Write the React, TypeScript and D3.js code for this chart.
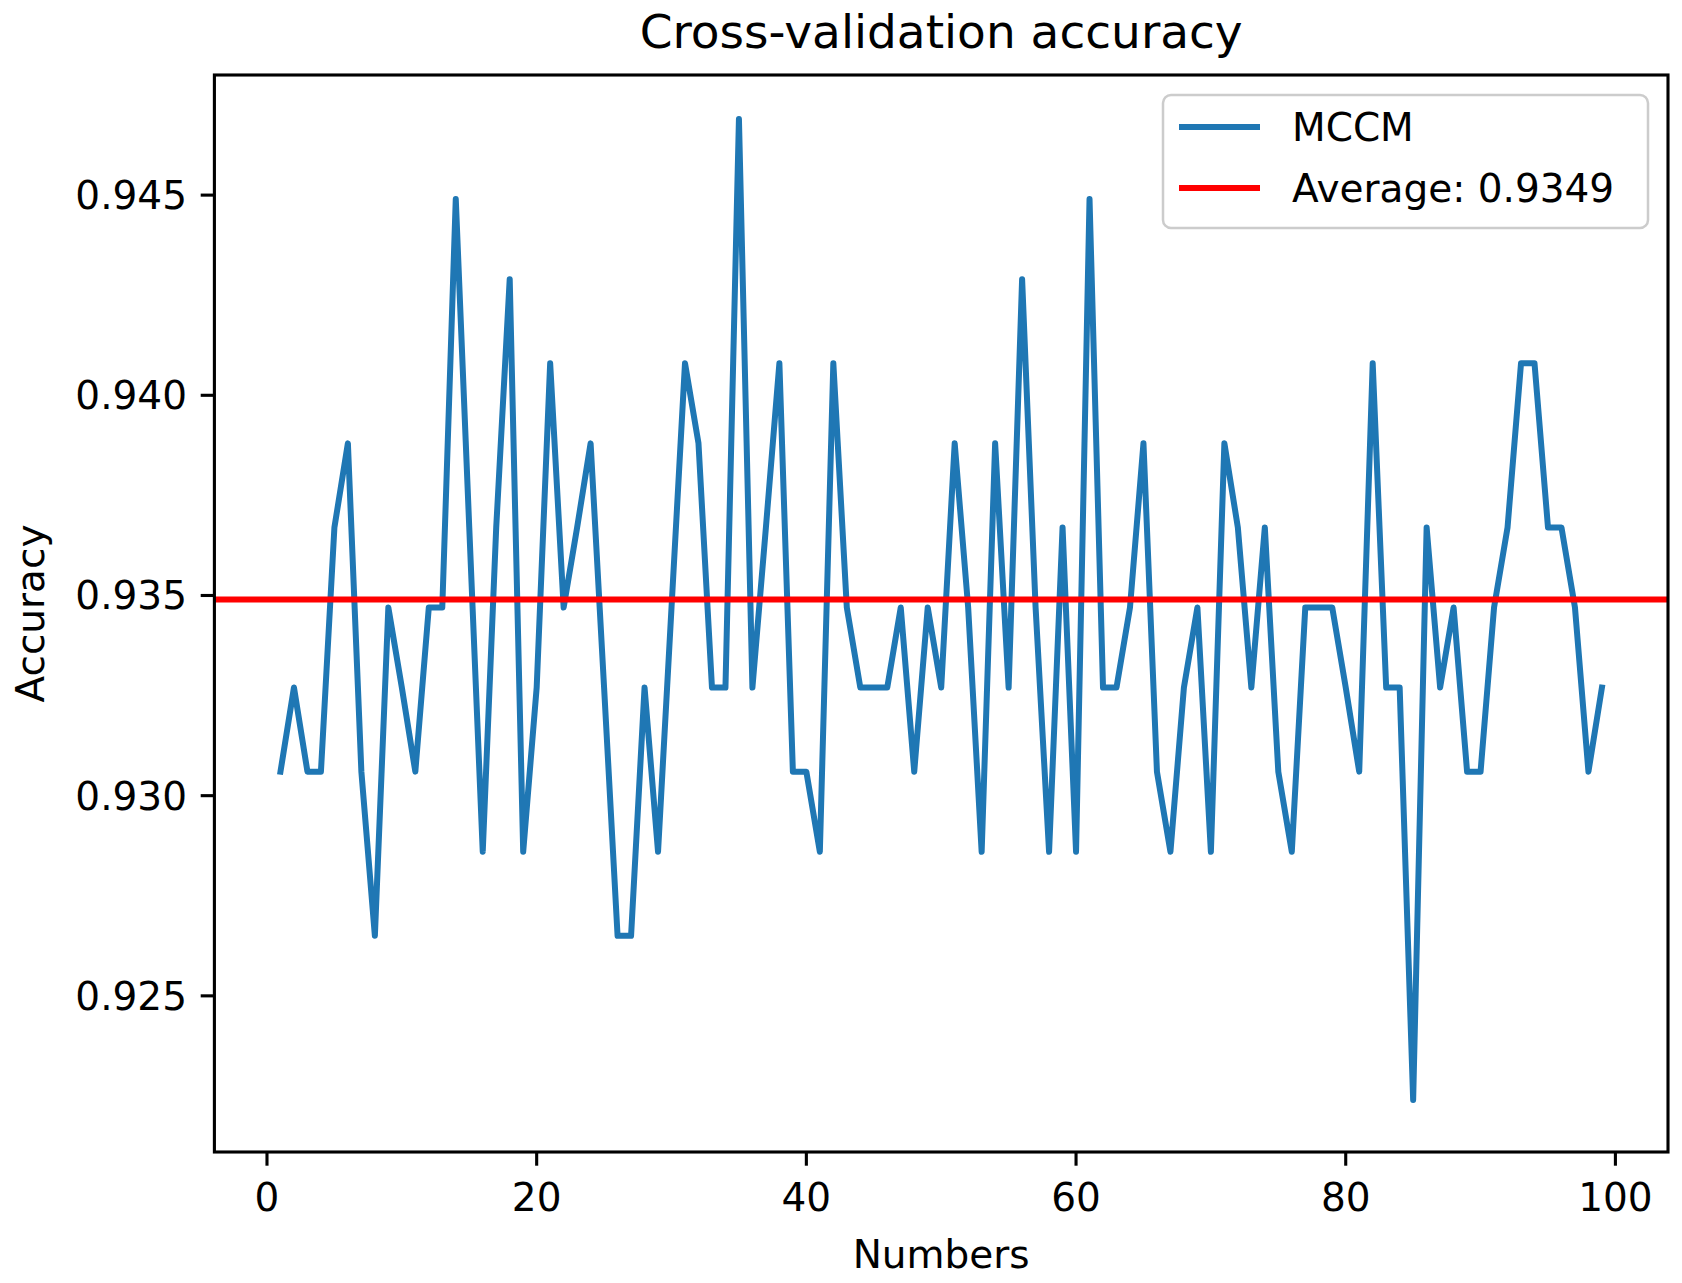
import React, { useEffect, useRef } from 'react'
import * as d3 from 'd3'

// Accuracy per cross-validation run (runs 1..99)
const accuracy = [
    0.9306, 0.9327, 0.9306, 0.9306, 0.9367, 0.9388, 0.9306, 0.9265, 0.9347, 0.9327,
    0.9306, 0.9347, 0.9347, 0.9449, 0.9367, 0.9286, 0.9367, 0.9429, 0.9286, 0.9327,
    0.9408, 0.9347, 0.9367, 0.9388, 0.9327, 0.9265, 0.9265, 0.9327, 0.9286, 0.9347,
    0.9408, 0.9388, 0.9327, 0.9327, 0.9469, 0.9327, 0.9367, 0.9408, 0.9306, 0.9306,
    0.9286, 0.9408, 0.9347, 0.9327, 0.9327, 0.9327, 0.9347, 0.9306, 0.9347, 0.9327,
    0.9388, 0.9347, 0.9286, 0.9388, 0.9327, 0.9429, 0.9347, 0.9286, 0.9367, 0.9286,
    0.9449, 0.9327, 0.9327, 0.9347, 0.9388, 0.9306, 0.9286, 0.9327, 0.9347, 0.9286,
    0.9388, 0.9367, 0.9327, 0.9367, 0.9306, 0.9286, 0.9347, 0.9347, 0.9347, 0.9327,
    0.9306, 0.9408, 0.9327, 0.9327, 0.9224, 0.9367, 0.9327, 0.9347, 0.9306, 0.9306,
    0.9347, 0.9367, 0.9408, 0.9408, 0.9367, 0.9367, 0.9347, 0.9306, 0.9327,
]
const AVERAGE = 0.9349

const xTicks = [0, 20, 40, 60, 80, 100]
const yTicks = [0.925, 0.93, 0.935, 0.94, 0.945]
const yLimits = [0.9211, 0.948]

const seriesNames = ['MCCM', `Average: ${AVERAGE.toFixed(4)}`]
const seriesColors = ['#1f77b4', '#ff0000']

const WIDTH = 1682
const HEIGHT = 1283
const FONT = '"DejaVu Sans", Verdana, sans-serif'

export default function App() {
    const svgRef = useRef<SVGSVGElement>(null)

    useEffect(() => {
        if (!svgRef.current) return
        const svg = d3.select(svgRef.current)
        svg.selectAll('*').remove()

        const plot = { left: 214.4, right: 1668, top: 75, bottom: 1152 }

        const runs = accuracy.map((_, i) => i + 1)
        const [xmin, xmax] = d3.extent(runs) as [number, number]
        const pad = (xmax - xmin) * 0.05 // matplotlib default margins

        const x = d3.scaleLinear().domain([xmin - pad, xmax + pad]).range([plot.left, plot.right])
        const y = d3.scaleLinear().domain(yLimits).range([plot.bottom, plot.top])

        svg.append('rect').attr('width', WIDTH).attr('height', HEIGHT).attr('fill', '#fff')

        // Title
        svg.append('text')
            .attr('x', (plot.left + plot.right) / 2)
            .attr('y', 48)
            .attr('text-anchor', 'middle')
            .style('font-family', FONT)
            .style('font-size', '47px')
            .text('Cross-validation accuracy')

        // Accuracy line
        const line = d3.line<number>()
            .x((_, i) => x(runs[i]))
            .y(d => y(d))

        svg.append('path')
            .datum(accuracy)
            .attr('fill', 'none')
            .attr('stroke', seriesColors[0])
            .attr('stroke-width', 6)
            .attr('stroke-linejoin', 'round')
            .attr('stroke-linecap', 'square')
            .attr('d', line)

        // Average line (axhline)
        svg.append('line')
            .attr('x1', plot.left)
            .attr('x2', plot.right)
            .attr('y1', y(AVERAGE))
            .attr('y2', y(AVERAGE))
            .attr('stroke', seriesColors[1])
            .attr('stroke-width', 6)

        // Frame
        svg.append('rect')
            .attr('x', plot.left)
            .attr('y', plot.top)
            .attr('width', plot.right - plot.left)
            .attr('height', plot.bottom - plot.top)
            .attr('fill', 'none')
            .attr('stroke', '#000')
            .attr('stroke-width', 3.1)

        // X axis ticks
        const xAxis = svg.append('g')
        xAxis.selectAll('line')
            .data(xTicks)
            .enter().append('line')
            .attr('x1', d => x(d)).attr('x2', d => x(d))
            .attr('y1', plot.bottom).attr('y2', plot.bottom + 13.7)
            .attr('stroke', '#000').attr('stroke-width', 3.1)
        xAxis.selectAll('text')
            .data(xTicks)
            .enter().append('text')
            .attr('x', d => x(d))
            .attr('y', 1211)
            .attr('text-anchor', 'middle')
            .style('font-family', FONT)
            .style('font-size', '39px')
            .text(d => String(d))

        svg.append('text')
            .attr('x', (plot.left + plot.right) / 2)
            .attr('y', 1268)
            .attr('text-anchor', 'middle')
            .style('font-family', FONT)
            .style('font-size', '39px')
            .text('Numbers')

        // Y axis ticks
        const yAxis = svg.append('g')
        yAxis.selectAll('line')
            .data(yTicks)
            .enter().append('line')
            .attr('x1', plot.left).attr('x2', plot.left - 13.7)
            .attr('y1', d => y(d)).attr('y2', d => y(d))
            .attr('stroke', '#000').attr('stroke-width', 3.1)
        yAxis.selectAll('text')
            .data(yTicks)
            .enter().append('text')
            .attr('x', plot.left - 27.4)
            .attr('y', d => y(d) + 14)
            .attr('text-anchor', 'end')
            .style('font-family', FONT)
            .style('font-size', '39px')
            .text(d => d3.format('.3f')(d))

        svg.append('text')
            .attr('transform', `translate(44, ${(plot.top + plot.bottom) / 2}) rotate(-90)`)
            .attr('text-anchor', 'middle')
            .style('font-family', FONT)
            .style('font-size', '39px')
            .text('Accuracy')

        // Legend
        const legend = svg.append('g')
        legend.append('rect')
            .attr('x', 1163).attr('y', 95)
            .attr('width', 1648 - 1163).attr('height', 228 - 95)
            .attr('rx', 8).attr('ry', 8)
            .attr('fill', '#fff').attr('fill-opacity', 0.8)
            .attr('stroke', '#cccccc').attr('stroke-width', 2.5)

        const rows = legend.selectAll('.row')
            .data(seriesNames)
            .enter().append('g')
            .attr('class', 'row')
            .attr('transform', (_, i) => `translate(0, ${127 + i * 61})`)

        rows.append('line')
            .attr('x1', 1179).attr('x2', 1260)
            .attr('y1', 0).attr('y2', 0)
            .attr('stroke', (_, i) => seriesColors[i])
            .attr('stroke-width', 6)

        rows.append('text')
            .attr('x', 1292)
            .attr('y', 14)
            .style('font-family', FONT)
            .style('font-size', '39px')
            .text(d => d)
    }, [])

    return (
        <svg
            ref={svgRef}
            width={WIDTH}
            height={HEIGHT}
            viewBox={`0 0 ${WIDTH} ${HEIGHT}`}
            style={{ position: 'absolute', left: 0, top: 0, display: 'block' }}
        />
    )
}
